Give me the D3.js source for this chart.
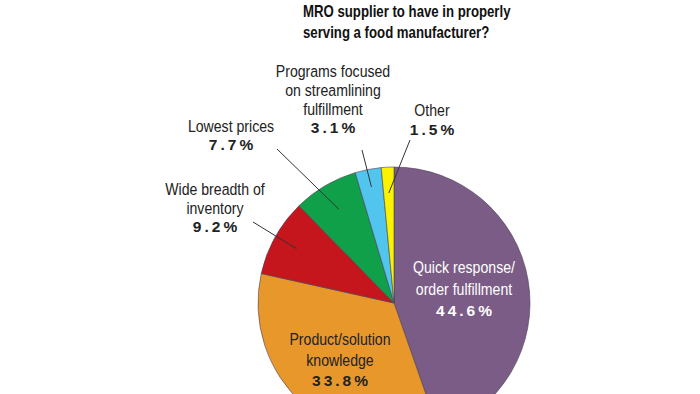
<!DOCTYPE html>
<html><head><meta charset="utf-8">
<script src="https://cdn.jsdelivr.net/npm/d3@7"></script>
<style>
body{margin:0;background:#fff;}
svg{display:block;}
.lbl{font-family:"Liberation Sans",Arial,sans-serif;font-size:17px;}
.pct{font-family:"Liberation Sans",Arial,sans-serif;font-size:15.5px;font-weight:bold;letter-spacing:3px;}
.title{font-family:"Liberation Sans",Arial,sans-serif;font-size:16.5px;font-weight:bold;}
</style></head>
<body><svg id="c" width="700" height="394"></svg>
<script>
const titleLines = ["MRO supplier to have in properly", "serving a food manufacturer?"];
const categories = [
  ["Quick response/", "order fulfillment"],
  ["Product/solution", "knowledge"],
  ["Wide breadth of", "inventory"],
  ["Lowest prices"],
  ["Programs focused", "on streamlining", "fulfillment"],
  ["Other"]
];
const values = [44.6, 33.8, 9.2, 7.7, 3.1, 1.5];
const colors = ["#7b5c86", "#e8972b", "#c5161d", "#10a049", "#52c5ef", "#fbf200"];

// layout (label anchors, not data)
const cx = 394, cy = 303, R = 136;
const condense = 0.83;
const labelLayout = [
  {x: 464, y: 269, fill: "#fff", gap: 22},
  {x: 340, y: 341, fill: "#222", gap: 21},
  {x: 215, y: 191, fill: "#222", gap: 19},
  {x: 231, y: 128, fill: "#222", gap: 19},
  {x: 333, y: 73, fill: "#222", gap: 19},
  {x: 432, y: 112, fill: "#222", gap: 20}
];
const leaders = [null, null,
  {from: [253, 222], lr: 0.82},
  {from: [277, 149], lr: 0.80},
  {from: [362, 150], lr: 0.87},
  {from: [410, 140], lr: 0.81}];

const svg = d3.select("#c");
svg.append("g").selectAll("g").data(titleLines).join("g")
  .attr("transform", (d, i) => `translate(303,${17 + i * 21}) scale(0.80,1)`)
  .append("text").attr("class", "title").attr("fill", "#111").text(d => d);

const pie = d3.pie().sort(null).value(d => d).startAngle(0).endAngle(2 * Math.PI);
const arcs = pie(values);
const arc = d3.arc().innerRadius(0).outerRadius(R);
const g = svg.append("g").attr("transform", `translate(${cx},${cy})`);
g.selectAll("path").data(arcs).join("path")
  .attr("d", arc).attr("fill", (d, i) => colors[i])
  .attr("stroke", "#4a3f55").attr("stroke-width", 0.6);

// leader lines
arcs.forEach((a, i) => {
  const L = leaders[i];
  if (!L) return;
  const r = R * L.lr;
  const p = d3.arc().innerRadius(r).outerRadius(r).centroid(a);
  svg.append("line")
    .attr("x1", L.from[0]).attr("y1", L.from[1])
    .attr("x2", cx + p[0]).attr("y2", cy + p[1])
    .attr("stroke", "#333").attr("stroke-width", 1);
});

// labels
categories.forEach((lines, i) => {
  const L = labelLayout[i];
  lines.forEach((s, k) => {
    svg.append("g").attr("transform", `translate(${L.x},${L.y + k * L.gap}) scale(${condense},1)`)
      .append("text").attr("class", "lbl")
      .attr("text-anchor", "middle").attr("dominant-baseline", "middle")
      .attr("fill", L.fill).text(s);
  });
  svg.append("text").attr("class", "pct").attr("x", L.x + 1.5).attr("y", L.y + lines.length * L.gap - 1)
    .attr("text-anchor", "middle").attr("dominant-baseline", "middle")
    .attr("fill", L.fill).text(values[i].toFixed(1) + "%");
});
</script></body></html>
